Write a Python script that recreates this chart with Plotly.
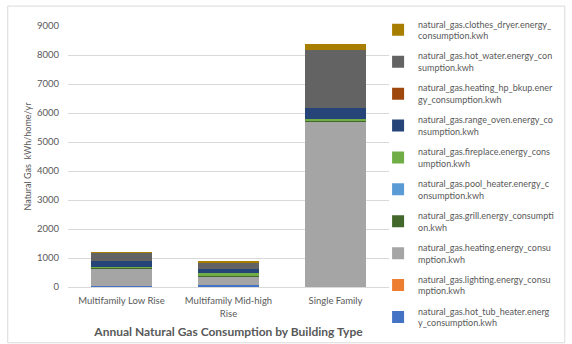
import plotly.graph_objects as go

categories = ["Multifamily Low Rise", "Multifamily Mid-high<br>Rise", "Single Family"]

# series in stacking order (bottom -> top)
series_names = [
    "natural_gas.hot_tub_heater.energ<br>y_consumption.kwh",
    "natural_gas.lighting.energy_consu<br>mption.kwh",
    "natural_gas.heating.energy_consu<br>mption.kwh",
    "natural_gas.grill.energy_consumpti<br>on.kwh",
    "natural_gas.pool_heater.energy_c<br>onsumption.kwh",
    "natural_gas.fireplace.energy_cons<br>umption.kwh",
    "natural_gas.range_oven.energy_co<br>nsumption.kwh",
    "natural_gas.heating_hp_bkup.ener<br>gy_consumption.kwh",
    "natural_gas.hot_water.energy_con<br>sumption.kwh",
    "natural_gas.clothes_dryer.energy_<br>consumption.kwh",
]

hot_tub = [40, 60, 10]
lighting = [0, 0, 0]
heating = [610, 310, 5700]
grill = [10, 10, 25]
pool_heater = [0, 0, 10]
fireplace = [40, 100, 55]
range_oven = [200, 150, 380]
heating_hp_bkup = [0, 0, 5]
hot_water = [275, 225, 2000]
clothes_dryer = [20, 15, 195]

series_values = [hot_tub, lighting, heating, grill, pool_heater, fireplace,
                 range_oven, heating_hp_bkup, hot_water, clothes_dryer]

colors = ["#4472C4", "#ED7D31", "#A5A5A5", "#43682B", "#5B9BD5", "#70AD47",
          "#264478", "#9E480E", "#636363", "#A87E00"]

y_ticks = [0, 1000, 2000, 3000, 4000, 5000, 6000, 7000, 8000, 9000]

FONT = "Lato"
GREY = "#595959"

fig = go.Figure()
n = len(series_names)
for i, (name, vals, col) in enumerate(zip(series_names, series_values, colors)):
    fig.add_trace(go.Bar(
        x=categories, y=vals, name=name,
        marker=dict(color=col, line=dict(width=0)),
        legendgroup=f"g{i}", legendrank=n - i,
    ))

fig.update_layout(
    barmode="stack",
    bargap=0.43,
    width=572, height=344,
    margin=dict(l=68, r=179, t=25, b=57),
    paper_bgcolor="white", plot_bgcolor="white",
    font=dict(family=FONT, size=9, color=GREY),
    title=dict(text="<b>Annual Natural Gas Consumption by Building Type</b>",
               font=dict(family=FONT, size=12, color=GREY),
               xref="paper", x=0.5, xanchor="center",
               yref="container", y=0.035, yanchor="middle"),
    legend=dict(x=0.966, xanchor="left", y=1.055, yanchor="top",
                traceorder="grouped", tracegroupgap=5.5, maxheight=400,
                font=dict(family=FONT, size=9, color=GREY),
                bgcolor="rgba(0,0,0,0)"),
    xaxis=dict(showgrid=False, showline=True, linecolor="#D9D9D9",
               tickfont=dict(size=9.5, color=GREY), ticks="",
               ticklabelstandoff=5),
    yaxis=dict(range=[0, 9000], tickvals=y_ticks, showgrid=True,
               gridcolor="#D9D9D9", zeroline=False, showline=False,
               ticklabelstandoff=8,
               tickfont=dict(size=9.5, color=GREY),
               title=dict(text="Natural Gas  kWh/home/yr",
                          font=dict(size=9, color=GREY), standoff=3)),
    shapes=[dict(type="rect", xref="paper", yref="paper",
                 x0=-0.1877, x1=1.5477, y0=-0.2137, y1=1.0763,
                 line=dict(color="#D9D9D9", width=1), fillcolor="rgba(0,0,0,0)")],
)

fig.write_html("out.html")
